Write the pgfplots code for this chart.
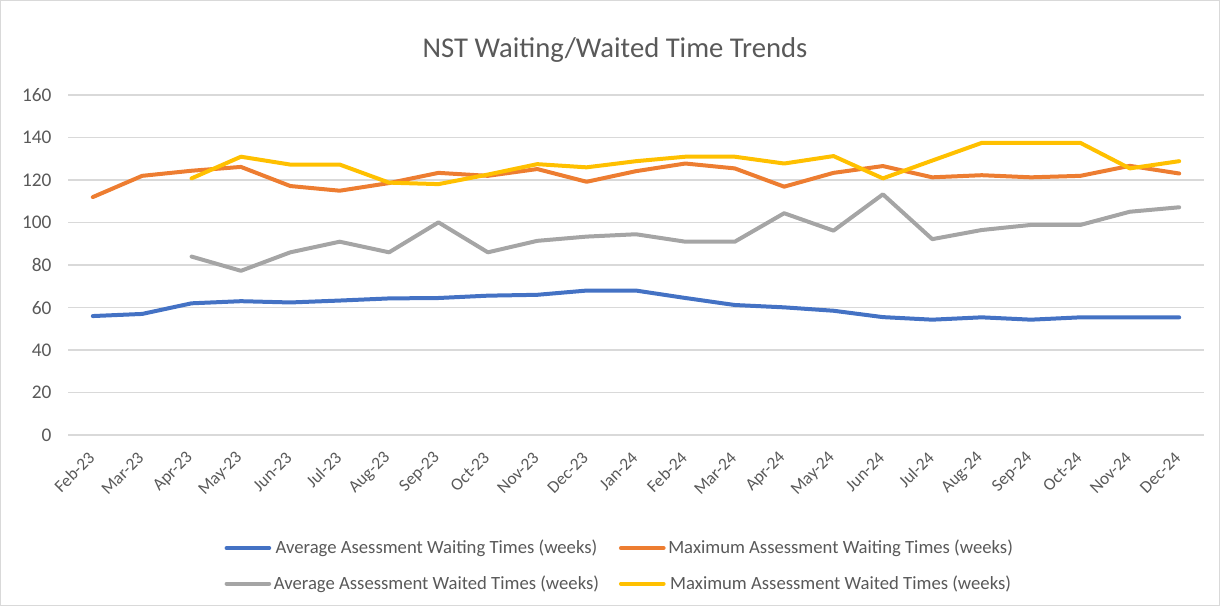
\documentclass[border=0pt]{standalone}
\usepackage{pgfplots}
\pgfplotsset{compat=1.18}
\usepackage{fontspec}
\setmainfont{Carlito}
\definecolor{cblue}{HTML}{4472C4}
\definecolor{corange}{HTML}{ED7D31}
\definecolor{cgray}{HTML}{A5A5A5}
\definecolor{cyellow}{HTML}{FFC000}
\definecolor{gridc}{HTML}{D9D9D9}
\definecolor{txt}{HTML}{595959}
\begin{document}
\begin{tikzpicture}
\draw[gridc, line width=1pt] (0.4pt,0.4pt) rectangle (914.6pt,454.1pt);
\node[text=txt, font=\fontsize{21.5}{24}\selectfont] at (461.25pt,417pt) {NST Waiting/Waited Time Trends};
\begin{axis}[
  at={(51pt,128.25pt)}, anchor=south west,
  scale only axis, width=852pt, height=255pt,
  xmin=-0.5, xmax=22.5, ymin=0, ymax=160,
  ytick={0,20,...,160},
  xtick={0,...,22},
  xticklabels={Feb-23,Mar-23,Apr-23,May-23,Jun-23,Jul-23,Aug-23,Sep-23,Oct-23,Nov-23,Dec-23,Jan-24,Feb-24,Mar-24,Apr-24,May-24,Jun-24,Jul-24,Aug-24,Sep-24,Oct-24,Nov-24,Dec-24},
  axis line style={draw=none},
  major tick length=0pt,
  xmajorgrids=false, ymajorgrids=true,
  grid style={draw=gridc, line width=1.2pt},
  /pgf/number format/assume math mode=true,
  yticklabel style={text=txt, font=\fontsize{14.5}{16}\selectfont, xshift=-9pt},
  xticklabel shift=14pt,
  xticklabel style={text=txt, font=\fontsize{13}{16}\selectfont, rotate=45, anchor=east, xshift=2pt},
  legend columns=2,
  legend style={draw=none, at={(0.486,-0.385)}, anchor=center,
    font=\fontsize{14}{16}\selectfont, text=txt,
    /tikz/every even column/.append style={column sep=13pt},
    row sep=11pt},
  legend image code/.code={\draw[#1] (0pt,0pt) -- (32pt,0pt);},
  every axis plot/.append style={line width=3pt, line join=round, line cap=round},
]
\addplot[cblue] coordinates {(0,56)(1,57)(2,62)(3,63)(4,62.4)(5,63.3)(6,64.3)(7,64.5)(8,65.6)(9,66)(10,68)(11,68)(12,64.5)(13,61.2)(14,60.1)(15,58.5)(16,55.5)(17,54.3)(18,55.4)(19,54.3)(20,55.4)(21,55.4)(22,55.4)};
\addlegendentry{Average Asessment Waiting Times (weeks)}
\addplot[corange] coordinates {(0,112)(1,122)(2,124.4)(3,126.2)(4,117.2)(5,115)(6,118.6)(7,123.4)(8,122)(9,125.2)(10,119.2)(11,124.2)(12,127.8)(13,125.5)(14,116.9)(15,123.4)(16,126.6)(17,121.3)(18,122.3)(19,121.3)(20,122)(21,126.7)(22,123.1)};
\addlegendentry{Maximum Assessment Waiting Times (weeks)}
\addplot[cgray] coordinates {(2,84)(3,77.3)(4,86)(5,91)(6,86)(7,100.1)(8,86)(9,91.4)(10,93.4)(11,94.5)(12,91)(13,91)(14,104.4)(15,96.2)(16,113.3)(17,92.2)(18,96.5)(19,98.9)(20,98.9)(21,105.1)(22,107.2)};
\addlegendentry{Average Assessment Waited Times (weeks)}
\addplot[cyellow] coordinates {(2,120.8)(3,131)(4,127.3)(5,127.3)(6,118.8)(7,118.1)(8,122.6)(9,127.5)(10,126)(11,128.9)(12,131)(13,131)(14,127.8)(15,131.3)(16,120.8)(17,129.2)(18,137.5)(19,137.5)(20,137.5)(21,125.5)(22,128.9)};
\addlegendentry{Maximum Assessment Waited Times (weeks)}
\end{axis}
\end{tikzpicture}
\end{document}
